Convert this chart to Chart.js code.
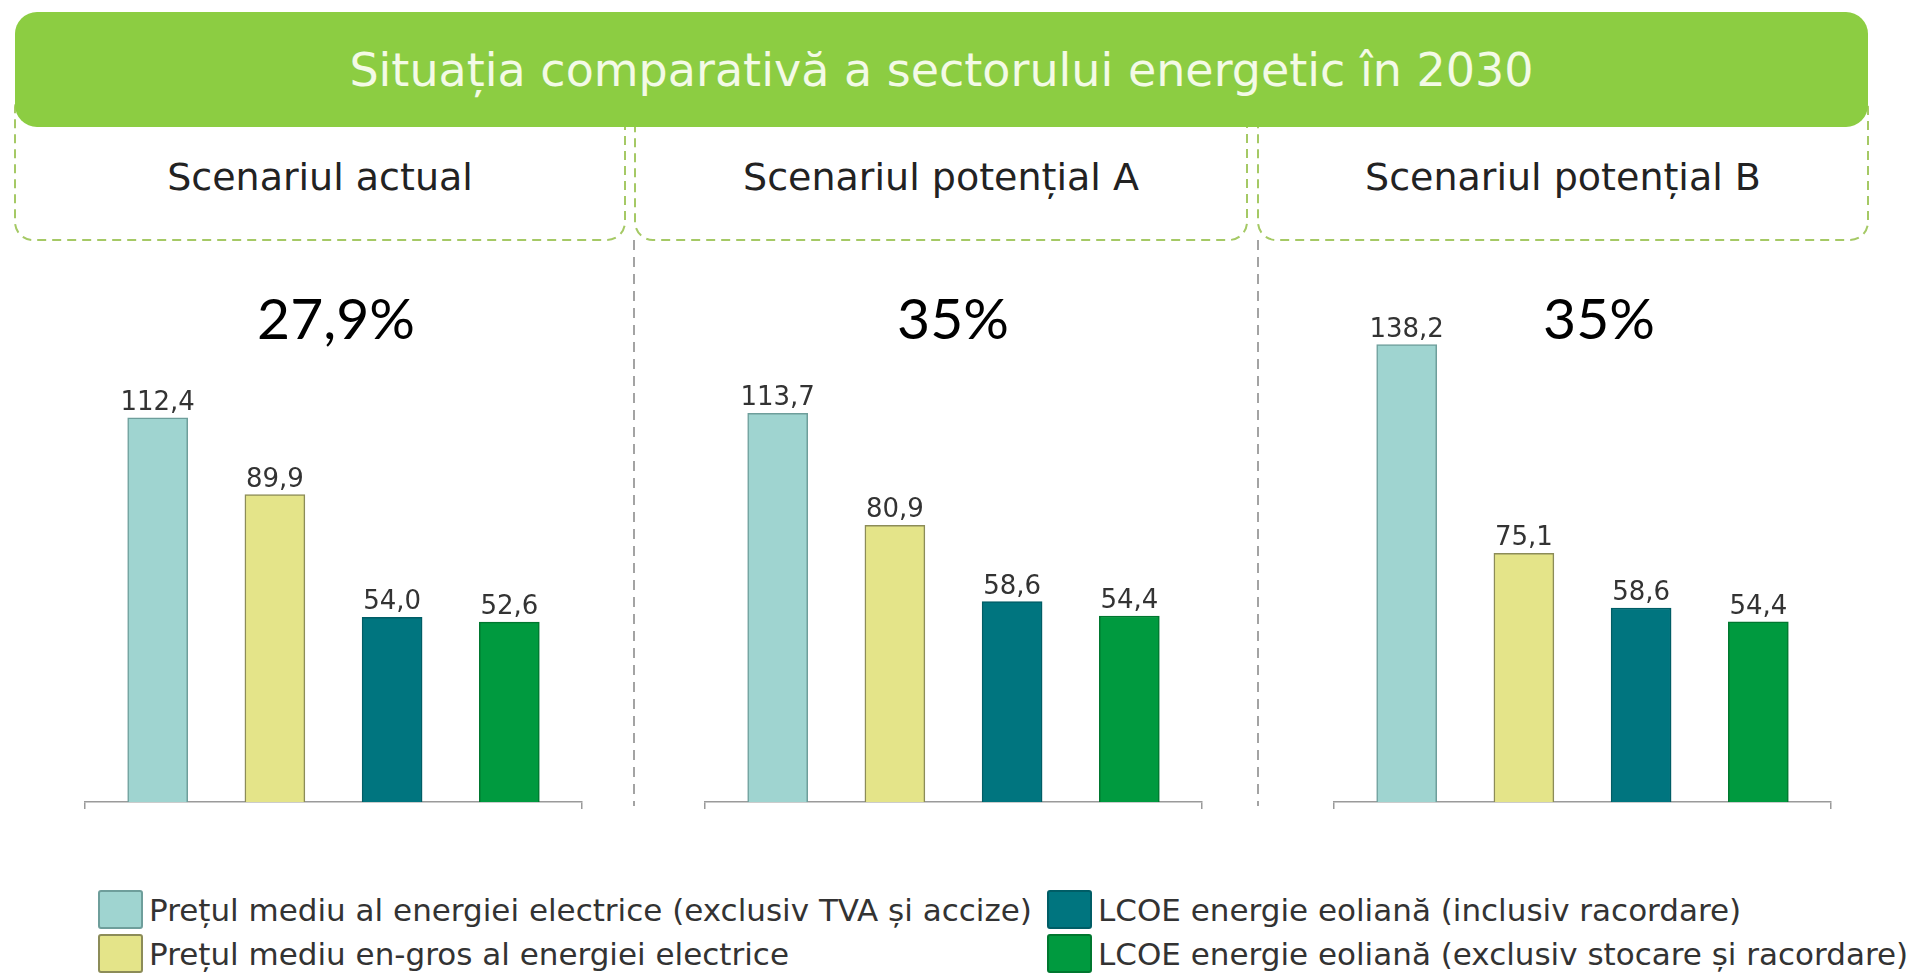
<!DOCTYPE html>
<html lang="ro">
<head>
<meta charset="utf-8">
<title>Situația comparativă a sectorului energetic în 2030</title>
<script src="https://cdn.jsdelivr.net/npm/chart.js"></script>
<style>
  html, body { margin: 0; padding: 0; background: #fff; }
  body { width: 1914px; height: 973px; position: relative; overflow: hidden; font-family: "DejaVu Sans", Verdana, sans-serif; }
  #deco { position: absolute; left: 0; top: 0; }
  .header {
    position: absolute; left: 15px; top: 12px; width: 1853px; height: 115px;
    background: #8ccd42; border-radius: 22px; color: #f3fae6;
    font-size: 46px; display: flex; align-items: center; justify-content: center;
  }
  .scen { position: absolute; top: 152px; height: 50px; font-size: 38px; color: #222;
          display: flex; align-items: center; justify-content: center; }
  .share { position: absolute; top: 282px; width: 300px; text-align: center;
           font-family: Lato, "Open Sans", sans-serif; font-size: 57px; color: #000; line-height: 70px; }
  canvas.panel { position: absolute; top: 280px; }
  .leg { position: absolute; height: 39px; display: flex; align-items: center; font-size: 31px; color: #333; white-space: nowrap; }
  .leg .sw { width: 41px; height: 35px; border: 2px solid; border-radius: 3px; margin-right: 6px; }
</style>
</head>
<body>
<svg id="deco" width="1914" height="973"></svg>
<div class="header">Situația comparativă a sectorului energetic în 2030</div>
<div id="labels"></div>
<canvas class="panel" id="c0" width="503" height="529" style="left:82px"></canvas>
<canvas class="panel" id="c1" width="503" height="529" style="left:702px"></canvas>
<canvas class="panel" id="c2" width="503" height="529" style="left:1331px"></canvas>
<div id="legend"></div>
<script>
// series (legend) and their colours
const seriesLabels = [
  "Prețul mediu al energiei electrice (exclusiv TVA și accize)",
  "Prețul mediu en-gros al energiei electrice",
  "LCOE energie eoliană (inclusiv racordare)",
  "LCOE energie eoliană (exclusiv stocare și racordare)"
];
const seriesColors = ["#9fd4d0", "#e4e489", "#00757f", "#009a3f"];
const seriesBorders = ["#6e9e9b", "#8c8c58", "#005d66", "#00772f"];

// scenarios
const scenarios = ["Scenariul actual", "Scenariul potențial A", "Scenariul potențial B"];
const shares = ["27,9%", "35%", "35%"];

// values per scenario
const valuesActual = [112.4, 89.9, 54.0, 52.6];
const valuesA = [113.7, 80.9, 58.6, 54.4];
const valuesB = [138.2, 75.1, 58.6, 54.4];
const panelValues = [valuesActual, valuesA, valuesB];
const panelMax = [152.7, 152.7, 157.7];

// decorations: header boxes and separators
function drawDeco() {
  const svg = document.getElementById("deco");
  const boxes = [[15, 625], [635, 1247], [1258, 1868]];
  let s = "";
  boxes.forEach(([x1, x2]) => {
    s += `<rect x="${x1}" y="90" width="${x2 - x1}" height="150" rx="18" ry="18" fill="none" stroke="#a5c965" stroke-width="2" stroke-dasharray="9 6"/>`;
  });
  [634, 1258].forEach(x => {
    s += `<line x1="${x}" y1="240" x2="${x}" y2="806" stroke="#a3a3a3" stroke-width="2" stroke-dasharray="10 7"/>`;
  });
  svg.innerHTML = s;

  const labels = document.getElementById("labels");
  const centers = [336, 953, 1599];
  boxes.forEach(([x1, x2], i) => {
    const d = document.createElement("div");
    d.className = "scen";
    d.style.left = x1 + "px";
    d.style.width = (x2 - x1) + "px";
    d.textContent = scenarios[i];
    labels.appendChild(d);

    const p = document.createElement("div");
    p.className = "share";
    p.style.left = (centers[i] - 150) + "px";
    p.textContent = shares[i];
    labels.appendChild(p);
  });
}

function drawLegend() {
  const legend = document.getElementById("legend");
  const pos = [[98, 890], [98, 934], [1047, 890], [1047, 934]];
  seriesLabels.forEach((txt, i) => {
    const row = document.createElement("div");
    row.className = "leg";
    row.style.left = pos[i][0] + "px";
    row.style.top = pos[i][1] + "px";
    row.innerHTML = `<span class="sw" style="background:${seriesColors[i]};border-color:${seriesBorders[i]}"></span><span>${txt}</span>`;
    legend.appendChild(row);
  });
}

// value labels above the bars
const valueLabels = {
  id: "valueLabels",
  afterDatasetsDraw(chart) {
    const ctx = chart.ctx;
    const meta = chart.getDatasetMeta(0);
    const data = chart.data.datasets[0].data;
    ctx.save();
    ctx.font = '26px "DejaVu Sans"';
    ctx.fillStyle = "#333";
    ctx.textAlign = "center";
    ctx.textBaseline = "alphabetic";
    meta.data.forEach((bar, i) => {
      ctx.fillText(data[i].y.toFixed(1).replace(".", ","), bar.x, bar.y - 8);
    });
    ctx.restore();
  }
};

function makePanel(k) {
  const ctx = document.getElementById("c" + k).getContext("2d");
  return new Chart(ctx, {
    type: "bar",
    data: {
      datasets: [{
        data: panelValues[k].map((v, i) => ({ x: i, y: v })),
        backgroundColor: seriesColors,
        borderColor: seriesBorders,
        borderWidth: 1.5,
        barThickness: 60
      }]
    },
    options: {
      responsive: false,
      animation: false,
      layout: { padding: { left: 3, right: 3, top: 0, bottom: 0 } },
      plugins: { legend: { display: false }, tooltip: { enabled: false } },
      scales: {
        x: {
          type: "linear",
          min: -0.62,
          max: 3.62,
          offset: false,
          afterBuildTicks: s => { s.ticks = [{ value: s.min }, { value: s.max }]; },
          ticks: { display: false },
          grid: { display: true, offset: false, drawOnChartArea: false, drawTicks: true, tickLength: 7, color: "#9a9a9a", lineWidth: 1.5 },
          border: { display: true, color: "#9a9a9a", width: 1.5 }
        },
        y: { display: false, min: 0, max: panelMax[k] }
      }
    },
    plugins: [valueLabels]
  });
}

window.onload = () => {
  drawDeco();
  drawLegend();
  [0, 1, 2].forEach(makePanel);
};
</script>
</body>
</html>
